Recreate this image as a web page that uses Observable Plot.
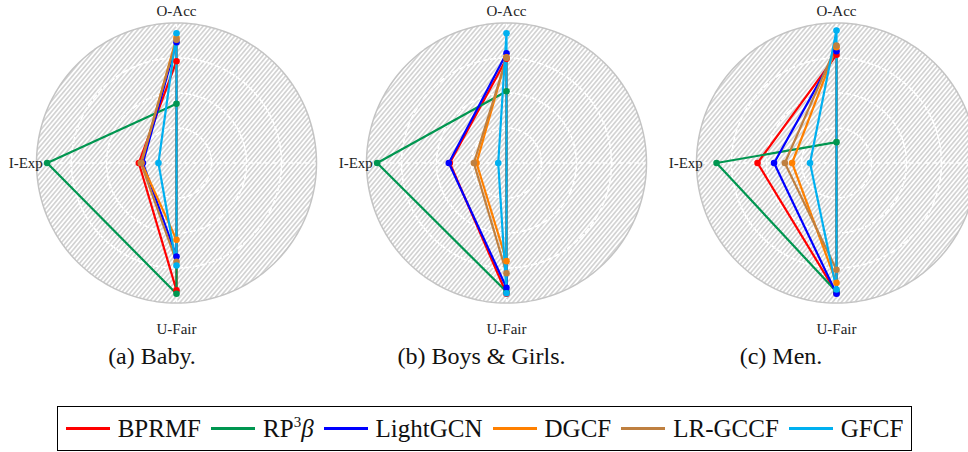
<!DOCTYPE html>
<html><head><meta charset="utf-8">
<script src="https://cdn.jsdelivr.net/npm/d3@7"></script>
<script src="https://cdn.jsdelivr.net/npm/@observablehq/plot@0.6"></script>
<style>
html,body{margin:0;padding:0;background:#fff;overflow:hidden;}
#wrap{position:relative;width:968px;height:452px;overflow:hidden;font-family:"Liberation Serif","Times New Roman",Tinos,"DejaVu Serif","Noto Serif",Times,serif;color:#111;}
#chart{position:absolute;left:0;top:0;}
.cap{position:absolute;top:344px;font-size:24px;line-height:24px;transform:translateX(-50%);white-space:nowrap;}
#legend{position:absolute;left:57px;top:406px;width:855px;height:45px;box-sizing:border-box;border:1px solid #000;display:flex;align-items:center;justify-content:center;font-size:25px;white-space:nowrap;}
.sw{width:44px;height:2.5px;margin-right:8px;}
.lab{margin-right:10px;line-height:25px;}
.lab:last-child{margin-right:0;}
sup{font-size:15px;vertical-align:10px;line-height:0;}
</style></head><body>
<div id="wrap"><div id="chart"></div><div id="captions"></div><div id="legend"></div></div>
<script>
// ---- data ----
const datasets = ["Baby", "Boys & Girls", "Men"];
const captions = ["(a) Baby.", "(b) Boys & Girls.", "(c) Men."];
const metrics = ["O-Acc", "I-Exp", "U-Fair"];
const models = ["BPRMF", "RP3β", "LightGCN", "DGCF", "LR-GCCF", "GFCF"];
const legendLabels = ["BPRMF", "RP<sup>3</sup><i>β</i>", "LightGCN", "DGCF", "LR-GCCF", "GFCF"];
const colors = ["#ff0000", "#009650", "#0000ff", "#ff8000", "#bf8040", "#00b0f0"];
// normalised scores per model: [O-Acc, I-Exp, U-Fair]
const baby = [
  [0.727, 0.269, 0.910],
  [0.423, 0.924, 0.934],
  [0.863, 0.240, 0.668],
  [0.894, 0.250, 0.549],
  [0.880, 0.255, 0.705],
  [0.927, 0.129, 0.732]
];
const boysGirls = [
  [0.744, 0.405, 0.934],
  [0.513, 0.924, 0.920],
  [0.784, 0.412, 0.891],
  [0.755, 0.214, 0.701],
  [0.750, 0.233, 0.787],
  [0.927, 0.059, 0.930]
];
const men = [
  [0.773, 0.564, 0.930],
  [0.149, 0.857, 0.920],
  [0.799, 0.446, 0.934],
  [0.827, 0.317, 0.856],
  [0.839, 0.369, 0.763],
  [0.946, 0.189, 0.904]
];
const panels = [baby, boysGirls, men];

// ---- layout constants ----
const FONT = '"Liberation Serif","Times New Roman",Tinos,"DejaVu Serif","Noto Serif",Times,serif';
const R = 140;                 // px per unit radius
const G = 330 / R;             // panel spacing in radius units
const W = 968, H = 340;
const cx0 = 176, cy = 162.5;
const ang = [Math.PI / 2, Math.PI, 3 * Math.PI / 2];

const table = [];
panels.forEach((arr, i) => arr.forEach((vals, j) => vals.forEach((v, k) => {
  table.push({panel: i, model: models[j], metric: metrics[k], value: v,
    x: i * G + v * Math.cos(ang[k]), y: v * Math.sin(ang[k])});
})));

const rings = [];
datasets.forEach((d, i) => [0.25, 0.5, 0.75, 1].forEach(rr => {
  d3.range(0, 360, 2).forEach(a => {
    const t = a * Math.PI / 180;
    rings.push({panel: i, rr, key: i + "-" + rr, x: i * G + rr * Math.cos(t), y: rr * Math.sin(t)});
  });
}));
const spokes = [];
datasets.forEach((d, i) => [0, 90, 180, 270].forEach(a => {
  const t = a * Math.PI / 180;
  spokes.push({x1: i * G, y1: 0, x2: i * G + Math.cos(t), y2: Math.sin(t)});
}));
const labelR = [1.082, 0.955, 1.19];
const labels = [];
datasets.forEach((d, i) => metrics.forEach((m, k) => {
  labels.push({k, text: m, x: i * G + labelR[k] * Math.cos(ang[k]), y: labelR[k] * Math.sin(ang[k])});
}));

const outer = rings.filter(d => d.rr === 1);
const inner = rings.filter(d => d.rr < 1);

const chart = Plot.plot({
  width: W, height: H,
  margin: 0,
  x: {domain: [-cx0 / R, (W - cx0) / R], axis: null},
  y: {domain: [-(H - cy) / R, cy / R], axis: null},
  color: {domain: models, range: colors},
  style: {fontFamily: FONT, background: "#fff"},
  marks: [
    Plot.line(outer, {x: "x", y: "y", z: "key", curve: "linear-closed", fill: "url(#hatch)", stroke: "none"}),
    Plot.line(inner, {x: "x", y: "y", z: "key", curve: "linear-closed", stroke: "#fff", strokeWidth: 1.6, strokeDasharray: "5,3"}),
    Plot.link(spokes, {x1: "x1", y1: "y1", x2: "x2", y2: "y2", stroke: "#fff", strokeWidth: 1.6, strokeDasharray: "5,3"}),
    Plot.line(outer, {x: "x", y: "y", z: "key", curve: "linear-closed", stroke: "#c4c4c4", strokeWidth: 1.5}),
    Plot.line(table, {x: "x", y: "y", z: d => d.panel + "|" + d.model, stroke: "model", curve: "linear-closed", strokeWidth: 2.2}),
    Plot.dot(table, {x: "x", y: "y", fill: "model", r: 3.3}),
    Plot.text(labels.filter(d => d.k !== 1), {x: "x", y: "y", text: "text", fontSize: 15, fill: "#222", textAnchor: "middle"}),
    Plot.text(labels.filter(d => d.k === 1), {x: "x", y: "y", text: "text", fontSize: 15, fill: "#222", textAnchor: "end"})
  ]
});
const defs = document.createElementNS("http://www.w3.org/2000/svg", "defs");
defs.innerHTML = '<pattern id="hatch" patternUnits="userSpaceOnUse" width="3.4" height="3.4" patternTransform="rotate(40)">' +
  '<rect width="3.4" height="3.4" fill="#fff"/><line x1="1.7" y1="0" x2="1.7" y2="3.4" stroke="#bcbcbc" stroke-width="1.1"/></pattern>';
chart.insertBefore(defs, chart.firstChild);
document.getElementById("chart").appendChild(chart);

// captions
const capX = [152, 481.5, 781];
const capDiv = document.getElementById("captions");
captions.forEach((c, i) => {
  const el = document.createElement("div");
  el.className = "cap";
  el.style.left = capX[i] + "px";
  el.textContent = c;
  capDiv.appendChild(el);
});
// legend
const leg = document.getElementById("legend");
models.forEach((m, j) => {
  const sw = document.createElement("div");
  sw.className = "sw";
  sw.style.background = colors[j];
  leg.appendChild(sw);
  const lab = document.createElement("div");
  lab.className = "lab";
  lab.innerHTML = legendLabels[j];
  leg.appendChild(lab);
});
</script>
</body></html>
